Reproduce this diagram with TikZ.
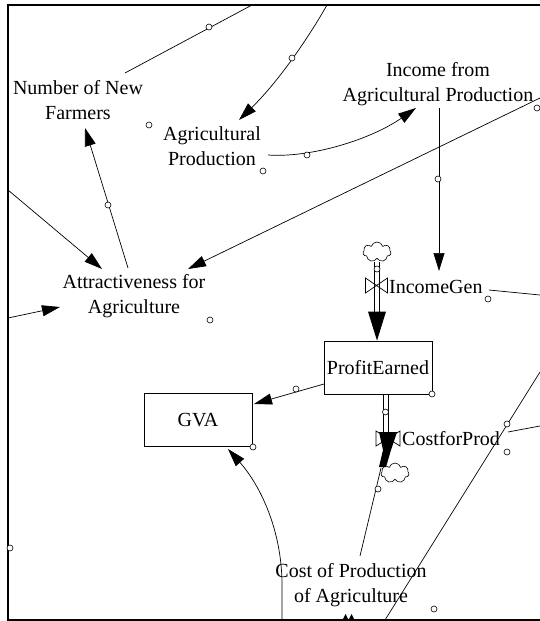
\documentclass[tikz,border=0pt]{standalone}
\usepackage{fontspec}
\setmainfont{Liberation Serif}
\newfontfamily\labelface{Liberation Serif}
\usetikzlibrary{arrows.meta,shapes.symbols,calc}
\begin{document}
\begin{tikzpicture}[x=1pt,y=-1pt,
  link/.style={line width=0.7pt},
  tip/.style={-{Triangle[length=18pt,width=11pt]}},
  pipeline/.style={line width=0.6pt},
  dot/.style={draw, fill=white, circle, minimum size=6pt, inner sep=0pt, line width=0.6pt},
  var/.style={align=center, inner sep=0pt, font=\labelface\fontsize{20}{25}\selectfont},
  stockbox/.style={draw, line width=0.8pt, minimum width=108pt, minimum height=53pt, inner sep=0pt, font=\labelface\fontsize{20}{25}\selectfont},
  source/.style={cloud, cloud puffs=7, draw, line width=0.6pt, minimum width=28pt, minimum height=20pt, inner sep=0pt, aspect=1.4},
]
\useasboundingbox (0,0) rectangle (540,621);

% frame
\draw[line width=1.6pt] (540,5) -- (8,5) -- (8,620) -- (540,620);

% variables
\node[var] (nnf) at (78,100) {Number of New\\Farmers};
\node[var] (ap) at (212,146) {Agricultural\\Production};
\node[var] (inc) at (438,84) {Income from\\Agricultural Production};
\node[var] (att) at (134,296) {Attractiveness for\\Agriculture};
\node[var, anchor=west] (ig) at (389,287) {IncomeGen};
\node[var, anchor=west] (cp) at (402,439) {CostforProd};
\node[var] (cop) at (351,585) {Cost of Production\\of Agriculture};

% stocks
\node[stockbox] (pe) at (378,367.5) {ProfitEarned};
\node[stockbox] (gva) at (198,420) {GVA};

% clouds
\node[source] (src) at (377,252) {};
\node[source] (snk) at (395,473) {};

% link end points
\coordinate (topA) at (252,5);
\coordinate (nnfEnd) at (125,73);
\coordinate (topB) at (327,5);
\coordinate (apTip) at (239,120);
\coordinate (apOut) at (268,155);
\coordinate (incTip) at (416,108);
\coordinate (incOut) at (439,108);
\coordinate (igTip) at (439,271);
\coordinate (rightA) at (540,98);
\coordinate (attTipR) at (188,269);
\coordinate (igOut) at (489,290);
\coordinate (rightB) at (540,295);
\coordinate (leftA) at (8,190);
\coordinate (attTipL) at (102,269);
\coordinate (attOut) at (128,268);
\coordinate (nnfTip) at (85,128);
\coordinate (leftB) at (8,318);
\coordinate (attTipW) at (60,307);
\coordinate (peOut) at (324,384);
\coordinate (gvaTipR) at (254,404);
\coordinate (copOut) at (282,620);
\coordinate (gvaTipB) at (228,449);
\coordinate (copTop) at (360,556);
\coordinate (cpIn) at (381,468);
\coordinate (bottomC) at (385,620);
\coordinate (rightC) at (540,372);
\coordinate (cpOut) at (508,432);
\coordinate (rightD) at (540,426);

% links
\draw[link] (topA) -- (nnfEnd);
\draw[link,tip] (topB) .. controls (310,35) and (280,80) .. (apTip);
\draw[link,tip] (apOut) .. controls (310,158) and (370,140) .. (incTip);
\draw[link,tip] (incOut) -- (igTip);
\draw[link,tip] (rightA) -- (attTipR);
\draw[link] (igOut) -- (rightB);
\draw[link,tip] (leftA) -- (attTipL);
\draw[link,tip] (attOut) -- (nnfTip);
\draw[link,tip] (leftB) -- (attTipW);
\draw[link,tip] (peOut) -- (gvaTipR);
\draw[link,tip] (copOut) -- (282,585) .. controls (282,530) and (260,485) .. (gvaTipB);
\draw[link] (copTop) -- (cpIn);
\draw[link] (bottomC) -- (rightC);
\draw[link] (cpOut) -- (rightD);

% inflow: cloud -> IncomeGen -> ProfitEarned
\draw[line width=0.7pt, fill=white] (365.5,278) -- (387.5,293) -- (387.5,278) -- (365.5,293) -- cycle;
\draw[pipeline] (374.5,262) -- (374.5,312) (379.5,262) -- (379.5,312);
\fill ($(src.south |- pe.north)+(-9,-29)$) -- ++(18,0) -- (src.south |- pe.north) -- cycle;

% outflow: ProfitEarned -> CostforProd -> cloud
\draw[pipeline] (383,394) -- (383,433) (388,394) -- (388,433);
\draw[line width=0.7pt, fill=white] (376,431) -- (400,446) -- (400,431) -- (376,446) -- cycle;
\fill (379,432) -- (397,432) -- (391,450) -- (386,467) -- (379,467) -- (383,450) -- cycle;

% bottom edge tips
\fill (342,621) -- (345.5,614) -- (349,621) -- cycle;
\fill (348,621) -- (351.5,614) -- (355,621) -- cycle;

% small markers
\foreach \p in {(209,27),(292,58),(307,155),(438,179),(108,205),(149,125),(263,171),(537,108),(210,320),(488,299),(296,389),(432,394),(253,447),(377,269),(385.5,412),(378,489),(507,424),(507,452),(434,609),(10,548)}
  \node[dot] at \p {};
\end{tikzpicture}
\end{document}
